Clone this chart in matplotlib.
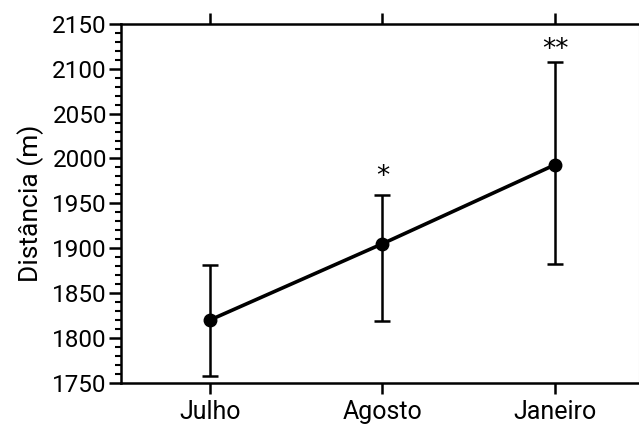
import matplotlib.pyplot as plt
from matplotlib.ticker import MultipleLocator

meses = ["Julho", "Agosto", "Janeiro"]
media = [1820, 1905, 1993]
erro_sup = [61, 54, 114]
erro_inf = [62, 86, 111]
sinais = ["", "*", "**"]
afast = [0, 13, 9]  # distancia do asterisco ao topo da barra (pt)

plt.rcParams['font.family'] = ['Roboto', 'DejaVu Sans']

fig = plt.figure(figsize=(6.39, 4.25), dpi=100)
ax = fig.add_axes([0.189, 0.099, 0.811, 0.845])

x = list(range(len(meses)))
ax.errorbar(x, media, yerr=[erro_inf, erro_sup], fmt='o-', color='black',
            lw=2.6, ms=9, elinewidth=1.8, capsize=6, capthick=1.8, zorder=3)

for i, s in enumerate(sinais):
    if s:
        ax.annotate(s, (x[i], media[i] + erro_sup[i]), xytext=(0, afast[i]),
                    textcoords='offset points', ha='center', va='center',
                    fontsize=19, family='DejaVu Sans')

ax.set_ylim(1750, 2150)
ax.set_xlim(-0.516, 2.487)
ax.set_xticks(x)
ax.set_xticklabels(meses, fontsize=18)
ax.yaxis.set_major_locator(MultipleLocator(50))
ax.yaxis.set_minor_locator(MultipleLocator(10))
ax.tick_params(axis='y', which='major', direction='out', length=9, width=1.8,
               labelsize=17.5, pad=1)
ax.tick_params(axis='y', which='minor', direction='out', length=4, width=1.5)
ax.tick_params(axis='x', direction='out', length=8, width=1.8, top=True, pad=4)
ax.set_ylabel("Distância (m)", fontsize=19, labelpad=6)

for lado in ['left', 'bottom', 'top']:
    ax.spines[lado].set_linewidth(1.8)
ax.spines['right'].set_color('#cccccc')

fig.savefig("out.png", dpi=100)
